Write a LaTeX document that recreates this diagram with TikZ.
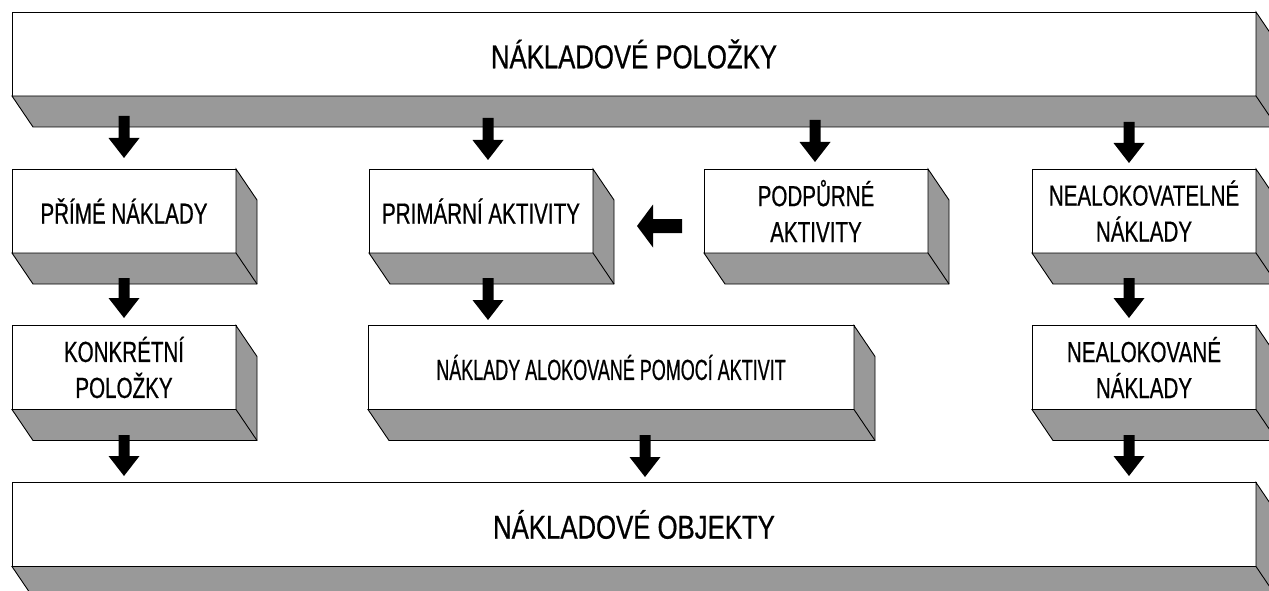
\documentclass[tikz,border=0pt]{standalone}
\usepackage{fontspec}
\setmainfont{Liberation Sans}
\newfontfamily\bigf[FakeStretch=0.78,FakeBold=0.6]{Liberation Sans}
\newfontfamily\smf[FakeStretch=0.71,FakeBold=0.6]{Liberation Sans}
\newfontfamily\narf[FakeStretch=0.62,FakeBold=0.6]{Liberation Sans}
\usetikzlibrary{calc}
\definecolor{sidegray}{RGB}{153,153,153}
\tikzset{
  face/.style={draw=black, line width=0.9pt, fill=white, inner sep=0pt, outer sep=0pt,
    minimum height=84pt, align=center, text=black},
  bigface/.style={face, minimum width=1244pt, font=\bigf\fontsize{33}{40}\selectfont},
  smallface/.style={face, minimum width=224pt, font=\smf\fontsize{29}{36}\selectfont},
  sideface/.style={fill=sidegray, draw=black, line width=0.9pt, line join=miter},
  blockdown/.style={fill=black, to path={let \p1=(\tikztostart), \p2=(\tikztotarget) in
    (\x1-5.5pt,\y1) -- (\x1-5.5pt,\y2+20pt) -- (\x1-15.5pt,\y2+20pt) -- (\x1,\y2)
    -- (\x1+15.5pt,\y2+20pt) -- (\x1+5.5pt,\y2+20pt) -- (\x1+5.5pt,\y1) -- cycle}},
  blockleft/.style={fill=black, to path={let \p1=(\tikztostart), \p2=(\tikztotarget) in
    (\x1,\y1+7pt) -- (\x2+16pt,\y1+7pt) -- (\x2+16pt,\y1+21.5pt) -- (\x2,\y1)
    -- (\x2+16pt,\y1-21.5pt) -- (\x2+16pt,\y1-7pt) -- (\x1,\y1-7pt) -- cycle}},
}
\newcommand\extrude[1]{%
  \draw[sideface] (#1.south west) -- (#1.south east) -- (#1.north east)
    -- ($(#1.north east)+(21,31)$) -- ($(#1.south east)+(21,31)$)
    -- ($(#1.south west)+(21,31)$) -- cycle;
  \draw[sideface, fill=none] (#1.south east) -- ($(#1.south east)+(21,31)$);}
\begin{document}
\begin{tikzpicture}[x=1pt, y=-1pt]
\useasboundingbox (0,0) rectangle (1269,591);
\clip (0,0) rectangle (1269,591);
\fill[white] (0,0) rectangle (1269,591);

% boxes
\node[bigface] (top) at (634,54) {NÁKLADOVÉ POLOŽKY};
\node[smallface] (prime) at (124,211) {PŘÍMÉ NÁKLADY};
\node[smallface] (prim) at (481,211) {PRIMÁRNÍ AKTIVITY};
\node[smallface] (podp) at (816,211) {PODPŮRNÉ\\AKTIVITY};
\node[smallface] (nealt) at (1144,211) {NEALOKOVATELNÉ\\NÁKLADY};
\node[smallface] (konk) at (124,367.5) {KONKRÉTNÍ\\POLOŽKY};
\node[face, minimum width=486pt, font=\narf\fontsize{29}{36}\selectfont] (alok) at (611,367.5) {NÁKLADY ALOKOVANÉ POMOCÍ AKTIVIT};
\node[smallface] (neal) at (1144,367.5) {NEALOKOVANÉ\\NÁKLADY};
\node[bigface] (obj) at (634,524.5) {NÁKLADOVÉ OBJEKTY};

\extrude{top}
\extrude{prime}
\extrude{prim}
\extrude{podp}
\extrude{nealt}
\extrude{konk}
\extrude{alok}
\extrude{neal}
\extrude{obj}

% arrow end points
\coordinate (s1) at (124,116);  \coordinate (e1) at (124,158);
\coordinate (s2) at (488,118);  \coordinate (e2) at (488,160);
\coordinate (s3) at (815,120);  \coordinate (e3) at (815,162);
\coordinate (s4) at (1129,122); \coordinate (e4) at (1129,163);
\coordinate (s5) at (124,278);  \coordinate (e5) at (124,318);
\coordinate (s6) at (488,278);  \coordinate (e6) at (488,320);
\coordinate (s7) at (1129,278); \coordinate (e7) at (1129,318);
\coordinate (s8) at (124,435);  \coordinate (e8) at (124,476);
\coordinate (s9) at (645,435);  \coordinate (e9) at (645,477);
\coordinate (s10) at (1129,435); \coordinate (e10) at (1129,476);
\coordinate (sh) at (682,226);  \coordinate (eh) at (637,226);

\path[blockdown] (s1) to (e1);
\path[blockdown] (s2) to (e2);
\path[blockdown] (s3) to (e3);
\path[blockdown] (s4) to (e4);
\path[blockdown] (s5) to (e5);
\path[blockdown] (s6) to (e6);
\path[blockdown] (s7) to (e7);
\path[blockdown] (s8) to (e8);
\path[blockdown] (s9) to (e9);
\path[blockdown] (s10) to (e10);
\path[blockleft] (sh) to (eh);
\end{tikzpicture}
\end{document}
